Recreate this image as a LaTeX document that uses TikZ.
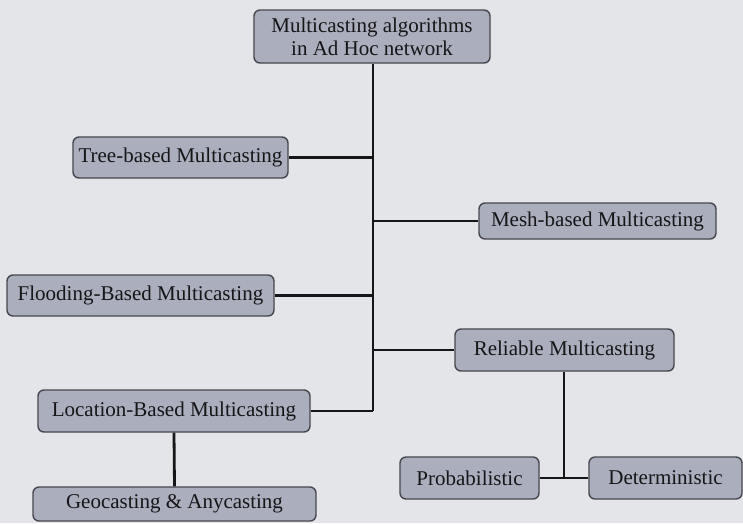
\documentclass[tikz,border=0pt]{standalone}
\usepackage{fontspec}
\setmainfont{Liberation Serif}
\definecolor{paper}{RGB}{228,229,233}
\definecolor{boxfill}{RGB}{170,174,189}
\definecolor{boxline}{RGB}{70,71,78}
\definecolor{ink}{RGB}{22,22,24}
\tikzset{
  cat/.style={draw=boxline, line width=1.4pt, fill=boxfill, rounded corners=6pt,
    text=ink, font=\fontsize{21}{23}\selectfont, inner sep=0pt, align=center},
  link/.style={draw=ink, line width=2.8pt}
}
\begin{document}
\begin{tikzpicture}[x=1pt, y=-1pt]
  % canvas
  \fill[paper] (0,0) rectangle (743,523);
  \useasboundingbox (0,0) rectangle (743,523);

  % trunk and branches (drawn first so the boxes sit on top)
  \coordinate (rootBottom) at (373,63);
  \coordinate (trunkEnd) at (373,411);
  \coordinate (relJoin) at (564,478);

  % categories
  \node[cat, minimum width=236pt, minimum height=53pt] (root) at (372,36.5)
    {Multicasting algorithms\\in Ad Hoc network};
  \node[cat, minimum width=215pt, minimum height=41pt] (tree) at (180.5,157.5)
    {Tree-based Multicasting};
  \node[cat, minimum width=237pt, minimum height=36pt] (mesh) at (597.5,221)
    {Mesh-based Multicasting};
  \node[cat, minimum width=267pt, minimum height=41pt] (flood) at (140.5,295.5)
    {Flooding-Based Multicasting};
  \node[cat, minimum width=219pt, minimum height=42pt] (rel) at (564.5,350)
    {Reliable Multicasting};
  \node[cat, minimum width=272pt, minimum height=42pt] (loc) at (174,411)
    {Location-Based Multicasting};
  \node[cat, minimum width=283pt, minimum height=34pt] (geo) at (174.5,504)
    {Geocasting \& Anycasting};
  \node[cat, minimum width=139pt, minimum height=42pt] (prob) at (469.5,478)
    {Probabilistic};
  \node[cat, minimum width=153pt, minimum height=42pt] (det) at (665.5,478)
    {Deterministic};

  \draw[link] (root.south -| rootBottom) -- (trunkEnd);
  \draw[link] (tree.east) -- (tree.east -| trunkEnd);
  \draw[link] (mesh.west) -- (mesh.west -| trunkEnd);
  \draw[link] (flood.east) -- (flood.east -| trunkEnd);
  \draw[link] (rel.west) -- (rel.west -| trunkEnd);
  \draw[link] (loc.east) -- (trunkEnd);
  \draw[link] (loc.south) -- (geo.north);
  \draw[link] (rel.south -| relJoin) -- (relJoin);
  \draw[link] (prob.east) -- (det.west);
\end{tikzpicture}
\end{document}
